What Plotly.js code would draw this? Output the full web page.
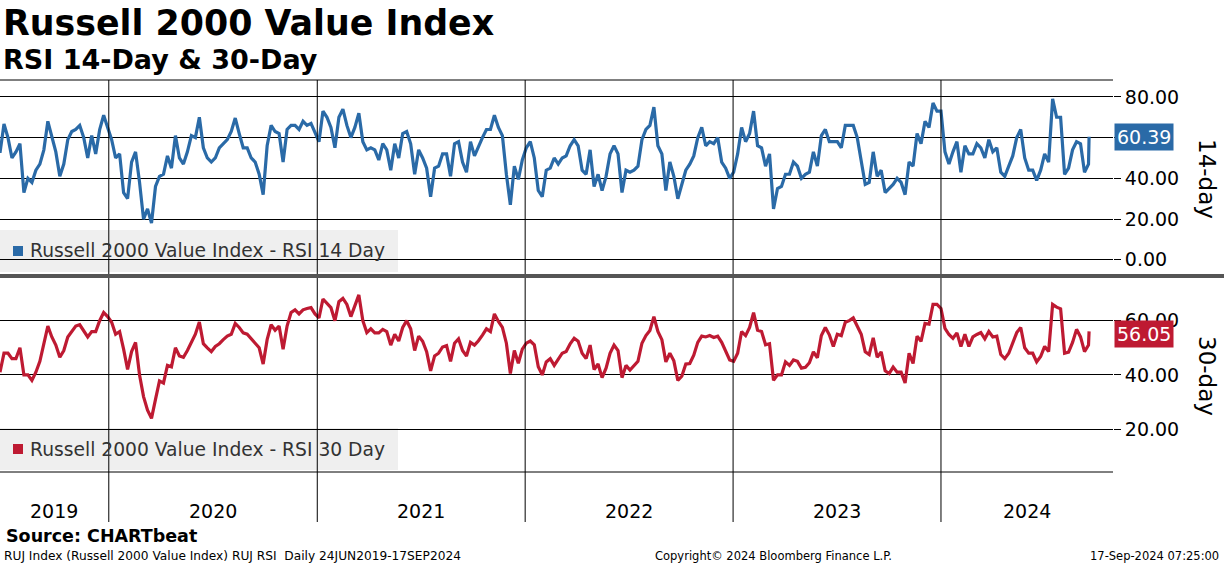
<!DOCTYPE html>
<html><head><meta charset="utf-8">
<script src="https://cdn.plot.ly/plotly-3.0.1.min.js"></script>
<style>html,body{margin:0;padding:0;background:#fff;overflow:hidden}#chart{width:1224px;height:566px}</style>
</head><body><div id="chart"></div>
<script>
// weekly samples (first sample 2019-06-24), plus the last print on 2024-09-17
const startDate = '2019-06-24';
const lastDate = '2024-09-17';
const rsi14 = [
52.5,66.7,60,50,53,57,33,40,38,44,47,54,68,60,53,41,47,59,63,64,66,60,50,61,52,64,71,65,59,50,52,33,30,48,53,38,20,25,18,36,41,42,51,45,61,50,47,
53,61,60,70,55,50,48,50,55,57,59,63,69.6,62,55,55,50,48,42,32,56,66,63,62,48,64,66,66,64,68,66,67,62,58,73,70,65,55,70,74,66,60,65,72,58,
54,55,54,49,57,54,44,57,50,62,63,57,42,54,50,45,31,45,46,52,52,41,57,58,48,43,58,51,56,60,64,64,71,65,61,42,27,46,39.5,49,55,58,50,34,31,
44,45,50,47,50,51,56,59,56,44,42,54,36,42,34,41,52,56,52,33,44,43,44,46,59,64,66,75,56,52,34,48,41,30,37,44,47,51,60,65,56,58,57,60,48,
45,40,43,52,65,58,62,73,56,55,46,52,25,35,36,42,42,48,46,40,42,43,53,46,61,64,58,58,58,55,66,66,66,60,48,37,38,53,41,44,33,35,37,40,38,32,
48,46,62,57,68,65,77,73,73,53,47,53,58,43,56,52,52,57,55,50,59,53,55,43,41,46,51,60,64,50,44,44,39,44,52,48,79,70,70,42,45,54,58,57,43,47
];
const rsi30 = [
41,48,48,46,46,50,40,40,38,41,45,52,58,54,51,46.5,49,54,56,58,58.5,56,54,56,56,60,63,61.5,59.4,55,56,49.5,42,48.6,52,40,32,27,24,31,37.8,37,43.5,43,50,47,46.5,
49,52,55,59.5,51.5,50,48.6,50.5,51.5,53,54.3,55,59,57.5,55.5,55,53.5,51.7,50,44,53,58.5,56.5,58,49.5,58,63,64,62.5,64,64.5,64.8,62.5,61,68,66.3,64.8,60,67,68.2,66,61.5,65.5,69.5,60,
55.6,57,55.5,55.5,56.8,56,51,55,52.5,57.5,60,57,49,54.3,52.4,48.6,41.5,47,48,50.3,50.8,45,51.7,53.3,49,47,52,51,52.6,54.7,57,56,62.5,59.7,57.5,51.7,40.5,49,44.3,49.5,51.7,52.5,51.1,43,40,
44.8,46,43.5,46,48,48.6,51.5,53.5,52.4,48,46,51,42,44,39,42.5,48,51,49,39,43.5,41.8,43.5,45,51.7,54.5,56.4,61.5,56,53,44.8,48,45.2,38,39.5,44,44.2,47.3,52,54.3,54,54.5,53.8,54.3,52,
48.5,45.5,45,48,56,54.5,57.5,63,56.5,56,51.1,51.5,38,40,40,44.8,43.5,45.5,45,42.5,42.8,44.5,48.5,46.3,54.5,57.5,54.8,50.5,55,54.5,59.4,60,61,58.3,55,48.5,47.5,53.7,46.5,48.5,41.5,40.5,42.9,41,41,37,
48,44.2,54.3,52.4,59,58.7,66,66,64.5,57.2,54.9,53.5,55.5,50.5,55,50.5,54,54.9,55.6,53.3,56,54,54.3,47.5,46,48,51.7,55.6,57.5,50,48,48,44.8,46.8,50.5,48.6,66,65,64.4,48,48.4,52,56.8,54,48.6,51
];
const rsi14Last = 60.39;
const rsi30Last = 56.05;
const years = ['2019','2020','2021','2022','2023','2024'];
const ticks14 = [0,20,40,60,80];
const ticks30 = [20,40,60];
const xRange = ['2019-06-24','2024-10-29'];

const BLUE = '#2a6aa7', RED = '#be1a32';
const FONT = 'DejaVu Sans';

function addDays(s, n){const d=new Date(s+'T00:00:00Z');d.setUTCDate(d.getUTCDate()+n);return d.toISOString().slice(0,10);}
function ms(s){return new Date(s+'T00:00:00Z').getTime();}
const dates = rsi14.map((_,i)=>addDays(startDate,7*i)).concat([lastDate]);
const y14 = rsi14.concat([rsi14Last]);
const y30 = rsi30.concat([rsi30Last]);

// pixel geometry helpers (plot area 0..1113 x 80..522)
const PT=80, PB=522, PH=PB-PT, PW=1113;
const py = p => (PB-p)/PH;
const px = p => p/PW;

const traces = [
  {x:dates, y:y14, type:'scatter', mode:'lines', xaxis:'x', yaxis:'y', line:{color:BLUE, width:3.2}, hoverinfo:'skip'},
  {x:dates, y:y30, type:'scatter', mode:'lines', xaxis:'x', yaxis:'y2', line:{color:RED, width:3.2}, hoverinfo:'skip'}
];

const shapes = [];
const annotations = [];
years.slice(1).forEach(y=>{
  shapes.push({type:'line', xref:'x', yref:'paper', x0:y+'-01-01', x1:y+'-01-01', y0:0, y1:1, line:{color:'#000', width:1}});
});
years.forEach(y=>{
  const a = Math.max(ms(y+'-01-01'), ms(xRange[0]));
  const b = Math.min(ms((+y+1)+'-01-01'), ms(xRange[1]));
  annotations.push({xref:'x', yref:'paper', x:new Date((a+b)/2).toISOString().slice(0,10), y:py(511), text:y, showarrow:false, font:{family:FONT,size:19,color:'#000'}, xanchor:'center', yanchor:'middle'});
});
shapes.push({type:'line', xref:'paper', yref:'paper', x0:0, x1:1, y0:py(80), y1:py(80), line:{color:'#000', width:1}});
shapes.push({type:'line', xref:'paper', yref:'paper', x0:0, x1:1, y0:py(472), y1:py(472), line:{color:'#000', width:1}});
shapes.push({type:'line', xref:'paper', yref:'paper', x0:0, x1:px(1224), y0:py(276), y1:py(276), line:{color:'#555', width:4}});
[[230,272,BLUE,'Russell 2000 Value Index - RSI 14 Day'],[428,470,RED,'Russell 2000 Value Index - RSI 30 Day']].forEach(([t,b,c,txt])=>{
  shapes.push({type:'rect', xref:'paper', yref:'paper', x0:0, x1:px(398), y0:py(b), y1:py(t), fillcolor:'#efefef', line:{width:0}, layer:'below'});
  const m=(t+b)/2;
  shapes.push({type:'rect', xref:'paper', yref:'paper', x0:px(13), x1:px(23), y0:py(m+5), y1:py(m-5), fillcolor:c, line:{width:0}});
  annotations.push({xref:'paper', yref:'paper', x:px(28), y:py(m), text:txt, showarrow:false, xanchor:'left', yanchor:'middle', font:{family:FONT,size:18.7,color:'#333'}});
});
annotations.push({xref:'paper', yref:'y', x:1, y:rsi14Last, text:rsi14Last.toFixed(2), showarrow:false, xanchor:'left', yanchor:'middle', xshift:1, bgcolor:BLUE, borderpad:2, font:{family:FONT,size:19,color:'#fff'}});
annotations.push({xref:'paper', yref:'y2', x:1, y:rsi30Last, text:rsi30Last.toFixed(2), showarrow:false, xanchor:'left', yanchor:'middle', xshift:1, yshift:-3, bgcolor:RED, borderpad:2, font:{family:FONT,size:19,color:'#fff'}});
annotations.push({xref:'paper', yref:'paper', x:px(1207), y:py(179), text:'14-day', textangle:90, showarrow:false, xanchor:'center', yanchor:'middle', font:{family:FONT,size:23,color:'#000'}});
annotations.push({xref:'paper', yref:'paper', x:px(1207), y:py(376), text:'30-day', textangle:90, showarrow:false, xanchor:'center', yanchor:'middle', font:{family:FONT,size:23,color:'#000'}});
annotations.push({xref:'paper', yref:'paper', x:px(1), y:py(23), text:'<b>Russell 2000 Value Index</b>', showarrow:false, xanchor:'left', yanchor:'middle', font:{family:FONT,size:34.8,color:'#000'}});
annotations.push({xref:'paper', yref:'paper', x:px(1), y:py(60), text:'<b>RSI 14-Day & 30-Day</b>', showarrow:false, xanchor:'left', yanchor:'middle', font:{family:FONT,size:27,color:'#000'}});
annotations.push({xref:'paper', yref:'paper', x:px(4), y:py(536), text:'<b>Source: CHARTbeat</b>', showarrow:false, xanchor:'left', yanchor:'middle', font:{family:FONT,size:17.5,color:'#000'}});
annotations.push({xref:'paper', yref:'paper', x:px(2), y:py(556), text:'RUJ Index (Russell 2000 Value Index) RUJ RSI  Daily 24JUN2019-17SEP2024', showarrow:false, xanchor:'left', yanchor:'middle', font:{family:FONT,size:12.2,color:'#000'}});
annotations.push({xref:'paper', yref:'paper', x:px(773), y:py(556), text:'Copyright© 2024 Bloomberg Finance L.P.', showarrow:false, xanchor:'center', yanchor:'middle', font:{family:FONT,size:11.5,color:'#000'}});
annotations.push({xref:'paper', yref:'paper', x:px(1221), y:py(556), text:'17-Sep-2024 07:25:00', showarrow:false, xanchor:'right', yanchor:'middle', font:{family:FONT,size:11.5,color:'#000'}});

const yCommon = {side:'right', anchor:'x', showgrid:true, gridcolor:'#000', gridwidth:1, zeroline:false, showline:false,
  ticks:'outside', ticklen:7, tickcolor:'#000', tickwidth:1, tickfont:{family:FONT,size:19,color:'#000'}, fixedrange:true};
const layout = {
  width:1224, height:566, margin:{l:0, r:111, t:80, b:44}, showlegend:false,
  paper_bgcolor:'#fff', plot_bgcolor:'#fff',
  xaxis:{type:'date', range:xRange, anchor:'y2', showgrid:false, showticklabels:false, ticks:'', zeroline:false, showline:false, fixedrange:true},
  // the 60 label of the top panel is hidden behind the last-value box in the reference
  yaxis:Object.assign({}, yCommon, {domain:[py(272),py(80)], range:[-6,88.3], tickvals:ticks14, ticktext:ticks14.map(v=>v===60?'':v.toFixed(2))}),
  yaxis2:Object.assign({}, yCommon, {domain:[py(472),py(280)], range:[4.2,75], tickvals:ticks30, ticktext:ticks30.map(v=>v.toFixed(2))}),
  shapes, annotations
};
Plotly.newPlot('chart', traces, layout, {displayModeBar:false, staticPlot:true});
</script></body></html>
